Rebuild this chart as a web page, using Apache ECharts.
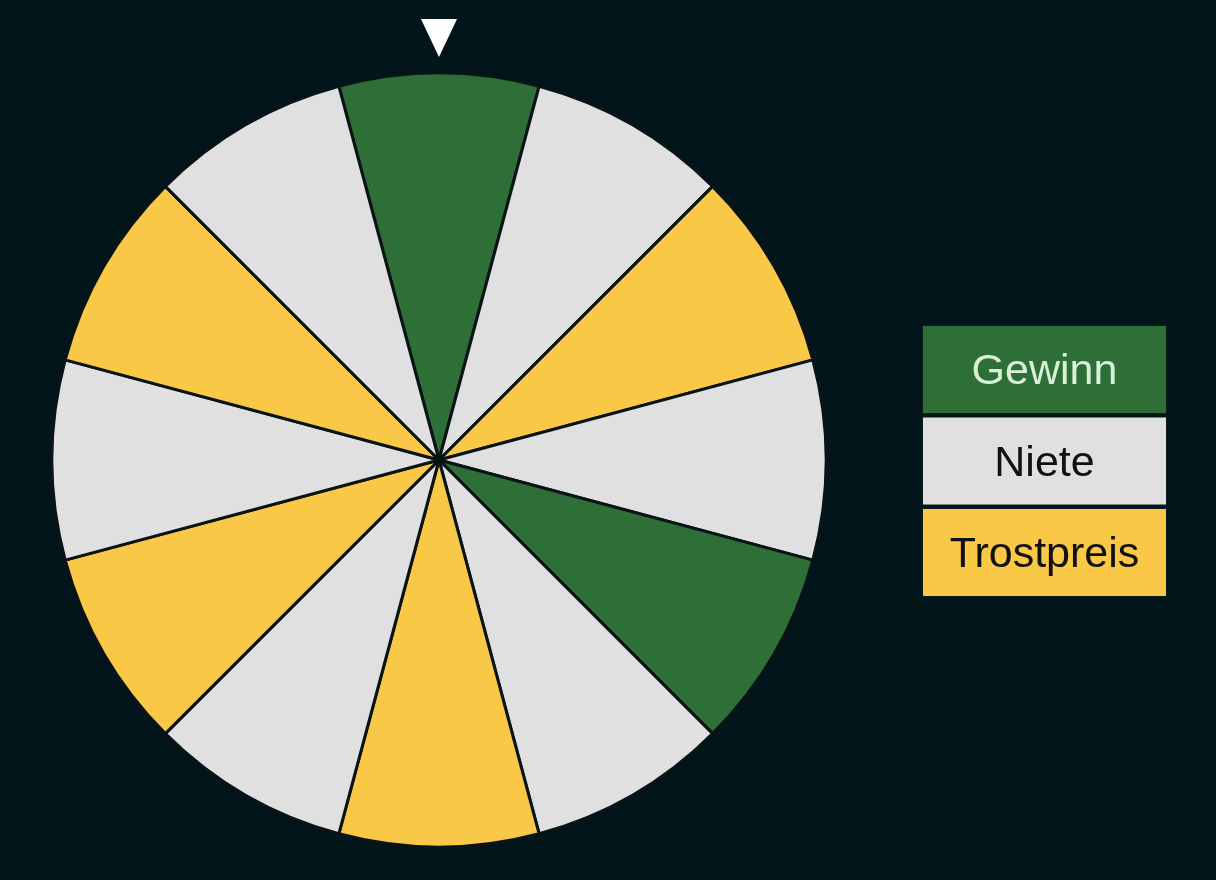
<!DOCTYPE html>
<html>
<head>
<meta charset="utf-8">
<style>
html,body{margin:0;padding:0;background:#02151a;}
#chart{width:1216px;height:880px;}
</style>
<script src="https://cdn.jsdelivr.net/npm/echarts@6/dist/echarts.min.js"></script>
</head>
<body>
<div id="chart"></div>
<script>
// Categories (legend order)
const categories = ['Gewinn', 'Niete', 'Trostpreis'];
const categoryColors = ['#2e6e37', '#e0e0e0', '#f9c846'];
const categoryTextColors = ['#d8efd8', '#111111', '#111111'];
// Wheel sectors, clockwise starting with the top sector
const sectorTypes = ['Gewinn', 'Niete', 'Trostpreis', 'Niete', 'Gewinn', 'Niete',
                     'Trostpreis', 'Niete', 'Trostpreis', 'Niete', 'Trostpreis', 'Niete'];
const sectorValues = [1, 1, 1, 1, 1, 1, 1, 1, 1, 1, 1, 1];

const chart = echarts.init(document.getElementById('chart'), null, {renderer: 'canvas'});

const pieData = sectorTypes.map((t, i) => ({
  name: t + ' ' + (i + 1),
  value: sectorValues[i],
  itemStyle: { color: categoryColors[categories.indexOf(t)] }
}));

const legendGraphics = categories.map((c, i) => ({
  type: 'group',
  left: 922,
  top: 325 + i * 91.5,
  children: [
    { type: 'rect', shape: { x: 0, y: 0, width: 244, height: 88 },
      style: { fill: categoryColors[i], stroke: '#0b1a1c', lineWidth: 1 } },
    { type: 'text', x: 122, y: 47,
      style: { text: c, fill: categoryTextColors[i], font: '43px "Liberation Sans", Arial, sans-serif',
               align: 'center', verticalAlign: 'middle' } }
  ]
}));

chart.setOption({
  backgroundColor: '#02151a',
  animation: false,
  series: [{
    type: 'pie',
    center: [439, 460],
    radius: [0, 387],
    startAngle: 105,
    clockwise: true,
    label: { show: false },
    labelLine: { show: false },
    emphasis: { disabled: true },
    itemStyle: { borderColor: '#0a1417', borderWidth: 3 },
    data: pieData
  }],
  graphic: [
    { type: 'polygon', shape: { points: [[421, 19], [457, 19], [439, 57]] },
      style: { fill: '#ffffff' } },
    { type: 'circle', shape: { cx: 439, cy: 460, r: 4 }, style: { fill: '#050a0b' } }
  ].concat(legendGraphics)
});
</script>
</body>
</html>
